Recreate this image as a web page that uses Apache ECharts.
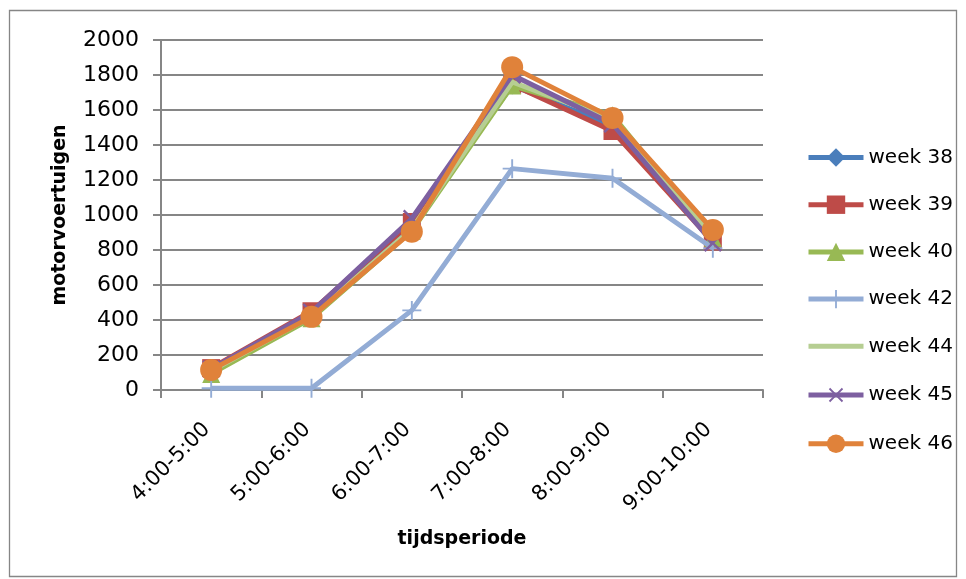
<!DOCTYPE html>
<html>
<head>
<meta charset="utf-8">
<script src="https://cdn.jsdelivr.net/npm/echarts@6/dist/echarts.min.js"></script>
<style>
html,body{margin:0;padding:0;background:#fff;}
#chart{width:966px;height:579px;}
</style>
</head>
<body>
<div id="chart"></div>
<script>
const categories = ['4:00-5:00', '5:00-6:00', '6:00-7:00', '7:00-8:00', '8:00-9:00', '9:00-10:00'];
const seriesNames = ['week 38', 'week 39', 'week 40', 'week 42', 'week 44', 'week 45', 'week 46'];
const week38 = [115, 440, 950, 1740, 1510, 860];
const week39 = [125, 450, 960, 1745, 1480, 848];
const week40 = [92, 410, 910, 1740, 1570, 870];
const week42 = [10, 10, 455, 1265, 1210, 810];
const week44 = [110, 420, 920, 1760, 1545, 880];
const week45 = [120, 445, 980, 1800, 1520, 840];
const week46 = [115, 418, 905, 1845, 1555, 915];
const yTicks = [0, 200, 400, 600, 800, 1000, 1200, 1400, 1600, 1800, 2000];

const FONT = 'DejaVu Sans';
const plus = 'path://M-1,-10 L1,-10 L1,-1 L10,-1 L10,1 L1,1 L1,10 L-1,10 L-1,1 L-10,1 L-10,-1 L-1,-1 Z';

const styles = [
  {color: '#4A7EBB', symbol: 'diamond', size: [15, 18], rotate: 0},
  {color: '#BE4B48', symbol: 'rect', size: 18, rotate: 0},
  {color: '#98B954', symbol: 'triangle', size: 18, rotate: 0},
  {color: '#93ACD5', symbol: plus, size: 19, rotate: 0},
  {color: '#B6CE92', symbol: 'none', size: 0, rotate: 0},
  {color: '#7D5FA0', symbol: plus, size: 23, rotate: 45},
  {color: '#E0823A', symbol: 'circle', size: 22, rotate: 0}
];
const dataSets = [week38, week39, week40, week42, week44, week45, week46];
const LW = 5;

const series = dataSets.map((d, i) => ({
  name: seriesNames[i],
  type: 'line',
  data: d,
  symbol: styles[i].symbol,
  symbolSize: styles[i].size,
  symbolRotate: styles[i].rotate,
  showSymbol: styles[i].symbol !== 'none',
  lineStyle: {color: styles[i].color, width: LW},
  itemStyle: {color: styles[i].color, borderWidth: 0},
  emphasis: {disabled: true},
  animation: false,
  z: 2 + i
}));

const legendData = seriesNames.map((n, i) => styles[i].symbol === 'none'
  ? {name: n, itemStyle: {opacity: 0}, lineStyle: {width: LW, color: styles[i].color, opacity: 1}}
  : {name: n});

const chart = echarts.init(document.getElementById('chart'));
chart.setOption({
  animation: false,
  graphic: [{
    type: 'rect',
    shape: {x: 9.5, y: 10.5, width: 947, height: 566},
    style: {fill: 'none', stroke: '#868686', lineWidth: 1.3},
    silent: true
  }],
  grid: {left: 161, right: 203, top: 40, bottom: 189},
  legend: {
    orient: 'vertical',
    left: 801,
    top: 141,
    itemWidth: 55,
    itemHeight: 23,
    itemGap: 24.2,
    data: legendData,
    lineStyle: {width: LW},
    textStyle: {fontFamily: FONT, fontSize: 20, color: '#000', lineHeight: 23}
  },
  xAxis: {
    type: 'category',
    data: categories,
    boundaryGap: true,
    name: 'tijdsperiode',
    nameLocation: 'middle',
    nameGap: 140,
    nameTextStyle: {fontFamily: FONT, fontSize: 19, fontWeight: 'bold', color: '#000'},
    axisLine: {lineStyle: {color: '#868686', width: 2}},
    axisTick: {show: true, length: 8, alignWithLabel: false, lineStyle: {color: '#868686', width: 2}},
    axisLabel: {rotate: 45, margin: 32, padding: [0, 6, 0, 0], fontFamily: FONT, fontSize: 21, color: '#000', interval: 0},
    splitLine: {show: false}
  },
  yAxis: {
    type: 'value',
    min: 0,
    max: 2000,
    interval: 200,
    name: 'motorvoertuigen',
    nameLocation: 'middle',
    nameGap: 91,
    nameTextStyle: {fontFamily: FONT, fontSize: 19, fontWeight: 'bold', color: '#000'},
    axisLine: {show: true, lineStyle: {color: '#868686', width: 2}},
    axisTick: {show: true, length: 8, lineStyle: {color: '#868686', width: 2}},
    axisLabel: {margin: 22, fontFamily: FONT, fontSize: 22, color: '#000',
      formatter: v => yTicks.includes(v) ? String(v) : ''},
    splitLine: {show: true, lineStyle: {color: '#868686', width: 2}}
  },
  series: series
});
</script>
</body>
</html>
